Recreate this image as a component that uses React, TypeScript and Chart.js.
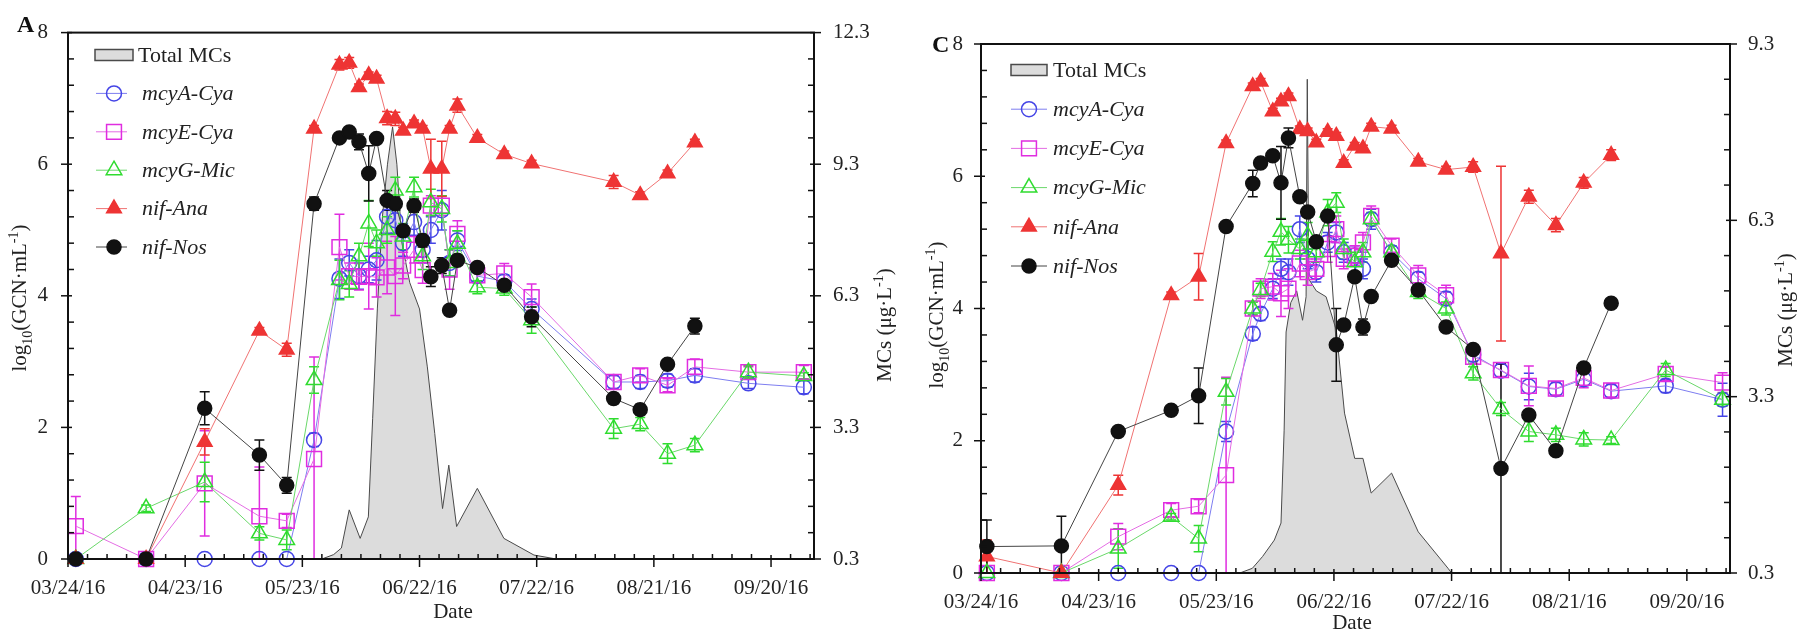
import React, { useEffect, useRef } from 'react';
import { Chart, registerables } from 'chart.js';

Chart.register(...registerables);

const H = 633;
const FONT = "'Liberation Serif', 'Times New Roman', serif";

const X_TICK_LABELS = ['03/24/16', '04/23/16', '05/23/16', '06/22/16', '07/22/16', '08/21/16', '09/20/16'];
const SERIES_NAMES = ['mcyA-Cya', 'mcyE-Cya', 'mcyG-Mic', 'nif-Ana', 'nif-Nos'];
const MCS_NAME = 'Total MCs';

// ---------- Panel A (days since 03/24/16) ----------
const A_DAYS = [2, 20, 35, 49, 56, 63, 69.5, 72, 74.5, 77, 79, 81.7, 83.8, 85.8, 88.6, 90.8, 92.9, 95.7, 97.7, 99.7, 104.8, 111.7, 118.7, 139.7, 146.5, 153.5, 160.5, 174.2, 188.4];
const A_MCYA = [0, 0, 0, 0, 0, 1.81, 4.26, 4.5, 4.3, 4.4, 4.54, 5.2, 5.15, 4.8, 5.12, 4.7, 5.0, 5.3, 4.5, 4.84, 4.3, 4.22, 3.8, 2.69, 2.69, 2.71, 2.79, 2.67, 2.61];
const A_MCYE = [0.5, 0, 1.15, 0.65, 0.58, 1.52, 4.74, 4.3, 4.29, 4.3, 4.28, 4.43, 4.3, 4.46, 4.7, 4.39, 5.37, 5.37, 4.4, 4.94, 4.31, 4.34, 3.98, 2.69, 2.79, 2.64, 2.92, 2.84, 2.84];
const A_MCYG = [0, 0.77, 1.17, 0.39, 0.29, 2.72, 4.24, 4.18, 4.6, 5.1, 4.8, 5.0, 5.6, 4.9, 5.65, 4.6, 5.42, 5.32, 4.5, 4.79, 4.13, 4.11, 3.63, 1.98, 2.05, 1.6, 1.73, 2.84, 2.78];
const A_ANA = [0, 0, 1.78, 3.47, 3.18, 6.54, 7.51, 7.54, 7.17, 7.35, 7.3, 6.7, 6.69, 6.51, 6.62, 6.54, 5.93, 5.93, 6.54, 6.89, 6.4, 6.15, 6.01, 5.73, 5.53, 5.86, 6.33, null, null];
const A_NOS = [0, 0, 2.29, 1.58, 1.12, 5.4, 6.4, 6.49, 6.34, 5.86, 6.39, 5.45, 5.4, 4.99, 5.37, 4.84, 4.29, 4.46, 3.78, 4.54, 4.43, 4.16, 3.68, 2.44, 2.27, 2.96, 3.54, null, null];
const A_MCYA_ERR = [0, 0, 0, 0, 0, 0.1, 0.3, 0.2, 0.2, 0.2, 0.3, 0.25, 0.2, 0.2, 0.2, 0.2, 0.2, 0.3, 0.2, 0.15, 0.1, 0.1, 0.15, 0.1, 0.1, 0.1, 0.1, 0.08, 0.1];
const A_MCYE_ERR = [0.45, 0, 0.8, 0.75, 0.1, 1.55, 0.5, 0.2, 0.2, 0.5, 0.3, 0.4, 0.6, 0.2, 0.2, 0.2, 0.15, 0.15, 0.3, 0.2, 0.1, 0.15, 0.2, 0.1, 0.1, 0.1, 0.12, 0.08, 0.1];
const A_MCYG_ERR = [0, 0.05, 0.3, 0.1, 0.15, 0.2, 0.3, 0.2, 0.2, 0.35, 0.2, 0.2, 0.2, 0.2, 0.15, 0.2, 0.2, 0.2, 0.2, 0.2, 0.1, 0.1, 0.2, 0.15, 0.1, 0.15, 0.1, 0.1, 0.05];
const A_ANA_ERR = [0, 0, 0.2, 0.05, 0.1, 0.05, 0.08, 0.08, 0.05, 0.05, 0.05, 0.1, 0.1, 0.05, 0.05, 0.05, 0.45, 0.42, 0.05, 0.1, 0.05, 0.05, 0.05, 0.1, 0.05, 0.05, 0.05, 0, 0];
const A_NOS_ERR = [0, 0, 0.25, 0.23, 0.12, 0.1, 0.05, 0.05, 0.12, 0.42, 0.05, 0.15, 0.1, 0.05, 0.1, 0.1, 0.15, 0.12, 0.05, 0.05, 0.05, 0.05, 0.15, 0.08, 0.08, 0.05, 0.12, 0, 0];
const A_MCS_DAYS = [0, 65, 68, 70, 72, 74.8, 76.9, 78, 79.2, 80.5, 81.8, 83.1, 84.2, 85.5, 87.5, 90, 92, 93.9, 95.9, 97.5, 99.5, 104.8, 111.6, 119.3, 125, 191];
const A_MCS = [0.3, 0.3, 0.4, 0.55, 1.42, 0.77, 1.26, 3.5, 6.0, 8.1, 9.3, 10.15, 9.3, 7.5, 6.6, 6.0, 4.68, 3.16, 1.45, 2.44, 1.04, 1.91, 0.77, 0.39, 0.3, 0.3];

// ---------- Panel C ----------
const C_DAYS = [1.5, 20.5, 35, 48.5, 55.5, 62.5, 69.3, 71.3, 74.4, 76.5, 78.4, 81.3, 83.3, 85.5, 88.4, 90.6, 92.5, 95.3, 97.4, 99.5, 104.7, 111.5, 118.6, 125.5, 132.6, 139.7, 146.6, 153.7, 160.7, 174.6, 189.1];
const C_MCYA = [0, 0, 0, 0, 0, 2.14, 3.62, 3.92, 4.3, 4.6, 4.55, 5.2, 4.75, 4.55, 5.0, 5.15, 4.85, 4.8, 4.6, 5.35, 4.85, 4.45, 4.15, 3.3, 3.06, 2.82, 2.78, 2.93, 2.75, 2.83, 2.62];
const C_MCYE = [0, 0, 0.55, 0.95, 1.01, 1.48, 4.0, 4.3, 4.33, 4.23, 4.3, 4.68, 4.55, 4.6, 4.9, 5.2, 4.75, 4.8, 5.0, 5.4, 4.95, 4.5, 4.2, 3.27, 3.07, 2.83, 2.79, 2.95, 2.76, 3.01, 2.88];
const C_MCYG = [0, 0, 0.37, 0.85, 0.52, 2.74, 4.0, 4.28, 4.86, 5.16, 5.04, 4.9, 5.1, 4.85, 5.45, 5.6, 4.9, 4.7, 4.85, 5.35, 4.85, 4.25, 4.0, 3.02, 2.48, 2.14, 2.09, 2.02, 2.01, 3.07, 2.62];
const C_ANA = [0.25, 0, 1.33, 4.2, 4.48, 6.5, 7.36, 7.43, 6.98, 7.13, 7.21, 6.71, 6.68, 6.51, 6.67, 6.61, 6.2, 6.46, 6.42, 6.75, 6.72, 6.22, 6.1, 6.14, 4.83, 5.69, 5.26, 5.9, 6.32, null, null];
const C_NOS = [0.4, 0.41, 2.14, 2.46, 2.68, 5.24, 5.89, 6.2, 6.31, 5.9, 6.58, 5.69, 5.46, 5.01, 5.4, 3.45, 3.75, 4.48, 3.72, 4.18, 4.73, 4.28, 3.72, 3.38, 1.58, 2.39, 1.85, 3.1, 4.08, null, null];
const C_MCYA_ERR = [0, 0, 0, 0, 0, 0.15, 0.1, 0.1, 0.15, 0.15, 0.2, 0.2, 0.15, 0.15, 0.15, 0.15, 0.15, 0.15, 0.15, 0.15, 0.1, 0.1, 0.1, 0.1, 0.1, 0.2, 0.1, 0.1, 0.1, 0.1, 0.25];
const C_MCYE_ERR = [0, 0, 0.2, 0.1, 0.1, 1.48, 0.1, 0.15, 0.2, 0.35, 0.3, 0.2, 0.2, 0.15, 0.2, 0.2, 0.15, 0.15, 0.15, 0.15, 0.1, 0.15, 0.15, 0.1, 0.1, 0.3, 0.1, 0.15, 0.1, 0.1, 0.15];
const C_MCYG_ERR = [0, 0, 0.3, 0.05, 0.2, 0.2, 0.1, 0.1, 0.15, 0.2, 0.2, 0.15, 0.2, 0.15, 0.2, 0.15, 0.15, 0.15, 0.15, 0.1, 0.1, 0.1, 0.1, 0.1, 0.1, 0.15, 0.1, 0.1, 0.05, 0.1, 0.1];
const C_ANA_ERR = [0.25, 0, 0.15, 0.05, 0.35, 0.05, 0.05, 0.05, 0.05, 0.05, 0.05, 0.05, 0.05, 0.05, 0.05, 0.05, 0.05, 0.05, 0.05, 0.05, 0.05, 0.05, 0.05, 0.08, 1.32, 0.1, 0.1, 0.08, 0.08, 0, 0];
const C_NOS_ERR = [0.4, 0.45, 0.05, 0.05, 0.42, 0.05, 0.2, 0.05, 0.05, 0.55, 0.15, 0.05, 0.05, 0.05, 0.05, 0.55, 0.05, 0.05, 0.12, 0.05, 0.05, 0.05, 0.05, 0.05, 1.58, 0.05, 0.05, 0.05, 0.05, 0, 0];
const C_MCS_DAYS = [0, 66, 69.2, 71.8, 74.8, 76.5, 77.3, 77.8, 79, 80.5, 82, 82.9, 83.2, 83.6, 85.5, 88, 90.6, 92.7, 95.3, 97.4, 99.5, 104.7, 111.5, 119.1, 120, 191];
const C_MCS = [0.3, 0.3, 0.38, 0.58, 0.86, 1.15, 2.73, 4.4, 4.9, 5.1, 4.6, 5.0, 8.7, 5.3, 5.1, 5.0, 4.43, 3.02, 2.25, 2.25, 1.66, 2.0, 1.0, 0.38, 0.3, 0.3];

type Style = { color: string; line: string; point: 'circle' | 'rect' | 'triangle'; radius: number; fill: boolean };
const STYLES: Style[] = [
  { color: '#4545e6', line: '#7d7df0', point: 'circle', radius: 7.5, fill: false },
  { color: '#e02de0', line: '#e46de4', point: 'rect', radius: 10.5, fill: false },
  { color: '#2fdc2f', line: '#6ad86a', point: 'triangle', radius: 9, fill: false },
  { color: '#ee3434', line: '#f07272', point: 'triangle', radius: 8.5, fill: true },
  { color: '#111111', line: '#444444', point: 'circle', radius: 7, fill: true },
];
const ORDERS = [4, 3, 2, 1, 0];

type Panel = {
  id: string; left: number; width: number;
  area: { l: number; r: number; t: number; b: number };
  y1Max: number; yPad: number; y1Pad: number;
  days: number[]; series: (number | null)[][]; errors: number[][];
  mcsDays: number[]; mcs: number[];
  legend: { lineX0: number; lineX1: number; markerX: number; textX: number; boxX: number; boxW: number; totalTextX: number; y0: number; step: number };
  titles: { date: number[]; left: number[]; right: number[]; panel: number[] };
};

const PANEL_A: Panel = {
  id: 'A', left: 0, width: 910,
  area: { l: 68, r: 814, t: 32, b: 559 },
  y1Max: 12.3, yPad: 20, y1Pad: 19,
  days: A_DAYS, series: [A_MCYA, A_MCYE, A_MCYG, A_ANA, A_NOS],
  errors: [A_MCYA_ERR, A_MCYE_ERR, A_MCYG_ERR, A_ANA_ERR, A_NOS_ERR],
  mcsDays: A_MCS_DAYS, mcs: A_MCS,
  legend: { lineX0: 96, lineX1: 127, markerX: 114, textX: 142, boxX: 95, boxW: 38, totalTextX: 138, y0: 55, step: 38.4 },
  titles: { date: [453, 612], left: [19, 298], right: [884, 325], panel: [17, 32] },
};

const PANEL_C: Panel = {
  id: 'C', left: 910, width: 887,
  area: { l: 71, r: 820, t: 44, b: 573 },
  y1Max: 9.3, yPad: 18, y1Pad: 18,
  days: C_DAYS, series: [C_MCYA, C_MCYE, C_MCYG, C_ANA, C_NOS],
  errors: [C_MCYA_ERR, C_MCYE_ERR, C_MCYG_ERR, C_ANA_ERR, C_NOS_ERR],
  mcsDays: C_MCS_DAYS, mcs: C_MCS,
  legend: { lineX0: 101, lineX1: 137, markerX: 119, textX: 143, boxX: 101, boxW: 36, totalTextX: 143, y0: 70, step: 39.2 },
  titles: { date: [442, 623], left: [26, 315], right: [875, 310], panel: [22, 52] },
};

function drawMarker(ctx: CanvasRenderingContext2D, s: Style, x: number, y: number) {
  ctx.save();
  ctx.lineWidth = 1.5;
  ctx.strokeStyle = s.color;
  ctx.fillStyle = s.color;
  ctx.beginPath();
  const r = s.radius;
  if (s.point === 'circle') ctx.arc(x, y, r, 0, Math.PI * 2);
  else if (s.point === 'rect') { const h = r * Math.SQRT1_2; ctx.rect(x - h, y - h, 2 * h, 2 * h); }
  else { ctx.moveTo(x, y - r); ctx.lineTo(x + 0.866 * r, y + 0.5 * r); ctx.lineTo(x - 0.866 * r, y + 0.5 * r); ctx.closePath(); }
  if (s.fill) ctx.fill();
  ctx.stroke();
  ctx.restore();
}

type Part = { t: string; k: 'n' | 'sub' | 'sup' };
function drawRich(ctx: CanvasRenderingContext2D, parts: Part[], cx: number, cy: number, rot: number, size: number) {
  ctx.save();
  ctx.translate(cx, cy);
  ctx.rotate(rot);
  ctx.fillStyle = '#222';
  ctx.textBaseline = 'alphabetic';
  ctx.textAlign = 'left';
  const small = Math.round(size * 0.65);
  const fontOf = (k: string) => `${k === 'n' ? size : small}px ${FONT}`;
  let total = 0;
  for (const p of parts) { ctx.font = fontOf(p.k); total += ctx.measureText(p.t).width; }
  let x = -total / 2;
  const base = size * 0.35;
  for (const p of parts) {
    ctx.font = fontOf(p.k);
    const dy = p.k === 'sub' ? size * 0.25 : p.k === 'sup' ? -size * 0.38 : 0;
    ctx.fillText(p.t, x, base + dy);
    x += ctx.measureText(p.t).width;
  }
  ctx.restore();
}

function PanelChart({ panel }: { panel: Panel }) {
  const ref = useRef<HTMLCanvasElement | null>(null);
  useEffect(() => {
    const canvas = ref.current;
    if (!canvas) return;
    const p = panel;
    const mcsIndex = 5;
    const datasets: any[] = p.series.map((vals, si) => ({
      label: SERIES_NAMES[si],
      data: p.days.map((d, i) => ({ x: d, y: vals[i] })),
      xAxisID: 'x', yAxisID: 'y',
      borderColor: STYLES[si].line, borderWidth: 1,
      pointStyle: STYLES[si].point, pointRadius: STYLES[si].radius,
      pointBorderColor: STYLES[si].color, pointBorderWidth: 1.5,
      pointBackgroundColor: STYLES[si].fill ? STYLES[si].color : 'rgba(255,255,255,0)',
      fill: false, tension: 0, spanGaps: false, clip: false, order: ORDERS[si],
    }));
    datasets.push({
      label: MCS_NAME,
      data: p.mcsDays.map((d, i) => ({ x: d, y: p.mcs[i] })),
      xAxisID: 'x', yAxisID: 'y1',
      borderColor: '#4a4a4a', borderWidth: 1, backgroundColor: '#dcdcdc',
      fill: 'start', pointRadius: 0, tension: 0, order: 10,
    });

    const decor = {
      id: 'decor' + p.id,
      afterDatasetDraw(chart: any, args: any) {
        if (args.index !== mcsIndex) return;
        const ctx: CanvasRenderingContext2D = chart.ctx;
        const xs = chart.scales.x, ys = chart.scales.y;
        ctx.save();
        p.series.forEach((vals, si) => {
          ctx.strokeStyle = STYLES[si].color;
          ctx.lineWidth = 1.5;
          vals.forEach((v, i) => {
            const e = p.errors[si][i];
            if (v === null || !e) return;
            const px = xs.getPixelForValue(p.days[i]);
            const lo = Math.max(0, v - e);
            const yt = ys.getPixelForValue(v + e);
            const yb = ys.getPixelForValue(lo);
            ctx.beginPath();
            ctx.moveTo(px, yt); ctx.lineTo(px, yb);
            ctx.moveTo(px - 5, yt); ctx.lineTo(px + 5, yt);
            if (lo > 0) { ctx.moveTo(px - 5, yb); ctx.lineTo(px + 5, yb); }
            ctx.stroke();
          });
        });
        ctx.restore();
      },
      afterDraw(chart: any) {
        const ctx: CanvasRenderingContext2D = chart.ctx;
        const { left, right, top, bottom } = chart.chartArea;
        const xs = chart.scales.x, ys = chart.scales.y, y1 = chart.scales.y1;
        ctx.save();
        ctx.strokeStyle = '#111';
        ctx.lineWidth = 2;
        ctx.strokeRect(left, top, right - left, bottom - top);
        ctx.lineWidth = 1.5;
        const seg = (x0: number, y0: number, x1: number, y1p: number) => { ctx.beginPath(); ctx.moveTo(x0, y0); ctx.lineTo(x1, y1p); ctx.stroke(); };
        for (let k = 0; k <= 20; k++) {
          const yy = ys.getPixelForValue(k * 0.4);
          if (k % 5 === 0) seg(left - 7, yy, left + 4, yy); else seg(left, yy, left + 6, yy);
        }
        const nR = Math.round((p.y1Max - 0.3) / 0.6);
        for (let k = 0; k <= nR; k++) {
          const yy = y1.getPixelForValue(0.3 + k * 0.6);
          if (k % 5 === 0) seg(right - 4, yy, right + 7, yy); else seg(right - 6, yy, right, yy);
        }
        for (let k = 0; k * 5 <= 191; k++) {
          const xx = xs.getPixelForValue(k * 5);
          if (k % 6 === 0) seg(xx, bottom - 4, xx, bottom + 8); else seg(xx, bottom - 5, xx, bottom);
        }
        // legend
        const L = p.legend;
        ctx.fillStyle = '#dcdcdc';
        ctx.strokeStyle = '#4a4a4a';
        ctx.lineWidth = 1.5;
        ctx.fillRect(L.boxX, L.y0 - 5.5, L.boxW, 11);
        ctx.strokeRect(L.boxX, L.y0 - 5.5, L.boxW, 11);
        ctx.fillStyle = '#222';
        ctx.textBaseline = 'middle';
        ctx.textAlign = 'left';
        ctx.font = `22px ${FONT}`;
        ctx.fillText(MCS_NAME, L.totalTextX, L.y0 + 1);
        SERIES_NAMES.forEach((name, si) => {
          const yy = L.y0 + L.step * (si + 1);
          ctx.strokeStyle = STYLES[si].line;
          ctx.lineWidth = 1;
          seg(L.lineX0, yy, L.lineX1, yy);
          drawMarker(ctx, STYLES[si], L.markerX, yy);
          ctx.fillStyle = '#222';
          ctx.font = `italic 22px ${FONT}`;
          ctx.fillText(name, L.textX, yy + 1);
        });
        // titles
        const T = p.titles;
        ctx.fillStyle = '#222';
        ctx.textAlign = 'center';
        ctx.textBaseline = 'middle';
        ctx.font = `21px ${FONT}`;
        ctx.fillText('Date', T.date[0], T.date[1]);
        drawRich(ctx, [{ t: 'log', k: 'n' }, { t: '10', k: 'sub' }, { t: '(GCN·mL', k: 'n' }, { t: '-1', k: 'sup' }, { t: ')', k: 'n' }], T.left[0], T.left[1], -Math.PI / 2, 21);
        drawRich(ctx, [{ t: 'MCs (μg·L', k: 'n' }, { t: '-1', k: 'sup' }, { t: ')', k: 'n' }], T.right[0], T.right[1], -Math.PI / 2, 21);
        ctx.textAlign = 'left';
        ctx.textBaseline = 'alphabetic';
        ctx.font = `bold 24px ${FONT}`;
        ctx.fillStyle = '#111';
        ctx.fillText(p.id, T.panel[0], T.panel[1]);
        ctx.restore();
      },
    };

    const tickFont = { family: FONT, size: 21 };
    const chart = new Chart(canvas, {
      type: 'line',
      data: { datasets },
      options: {
        animation: false,
        responsive: false,
        devicePixelRatio: 1,
        events: [],
        layout: { padding: { top: p.area.t, left: 0, right: 0, bottom: 0 } },
        plugins: { legend: { display: false }, tooltip: { enabled: false } },
        scales: {
          x: {
            type: 'linear', position: 'bottom', min: 0, max: 191,
            grid: { display: false, drawTicks: false }, border: { display: false },
            ticks: {
              stepSize: 30, includeBounds: false, autoSkip: false, maxRotation: 0, padding: 17, font: tickFont, color: '#222',
              callback: (v: any) => { const k = Number(v) / 30; return Number.isInteger(k) ? X_TICK_LABELS[k] : ''; },
            },
            afterFit: (s: any) => { s.height = H - p.area.b; },
          },
          y: {
            type: 'linear', position: 'left', min: 0, max: 8,
            grid: { display: false, drawTicks: false }, border: { display: false },
            ticks: { stepSize: 2, padding: p.yPad, font: tickFont, color: '#222', callback: (v: any) => String(v) },
            afterFit: (s: any) => { s.width = p.area.l; },
          },
          y1: {
            type: 'linear', position: 'right', min: 0.3, max: p.y1Max,
            grid: { display: false, drawTicks: false }, border: { display: false },
            ticks: { stepSize: 3, padding: p.y1Pad, font: tickFont, color: '#222', callback: (v: any) => Number(v).toFixed(1) },
            afterFit: (s: any) => { s.width = p.width - p.area.r; },
          },
        },
      } as any,
      plugins: [decor as any],
    });
    return () => chart.destroy();
  }, [panel]);
  return (
    <canvas
      ref={ref}
      width={panel.width}
      height={H}
      style={{ position: 'absolute', left: panel.left, top: 0, width: panel.width, height: H }}
    />
  );
}

export default function App() {
  return (
    <div style={{ position: 'fixed', left: 0, top: 0, width: 1797, height: H, background: '#fff', overflow: 'hidden' }}>
      <PanelChart panel={PANEL_A} />
      <PanelChart panel={PANEL_C} />
    </div>
  );
}
